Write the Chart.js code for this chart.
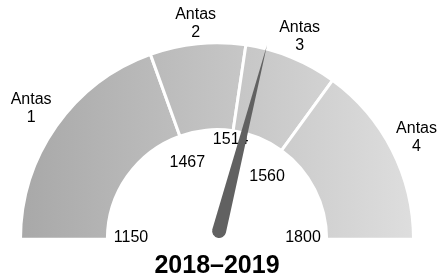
<!DOCTYPE html>
<html>
<head>
<meta charset="utf-8">
<script src="https://cdn.jsdelivr.net/npm/chart.js@4"></script>
<style>
  html, body { margin: 0; padding: 0; background: #fff; }
</style>
</head>
<body>
<canvas id="gauge" width="437" height="279"></canvas>
<script>
// gauge data
const zoneNames = [["Antas", "1"], ["Antas", "2"], ["Antas", "3"], ["Antas", "4"]];
const zoneSizes = [39, 15.7, 15.3, 30];
const tickValues = [1150, 1467, 1514, 1560, 1800];
const tickLabels = ["1150", "1467", "1514", "1560", "1800"];
const needleValue = 1524;
const titleText = "2018–2019";

const FONT = "'Liberation Sans', Arial, sans-serif";

// hand tuned placement of the texts around the arc
const tickRadius = [86, 82, 101, 80, 86];
const tickShift = [1.2, -1.4, -0.7, 2.75, -1.2]; // degrees
const zoneGap = [7, 5, 2, 4];

const toRad = (d) => (d * Math.PI) / 180;

const gaugePlugin = {
  id: "gaugeExtras",
  afterDatasetsDraw(chart) {
    const arcs = chart.getDatasetMeta(0).data;
    if (!arcs.length) return;
    const ctx = chart.ctx;
    const cx = arcs[0].x;
    const cy = arcs[0].y;
    const outer = arcs[0].outerRadius;
    const bounds = [arcs[0].startAngle, ...arcs.map((a) => a.endAngle)];

    ctx.save();
    ctx.fillStyle = "#000";
    ctx.font = "16px " + FONT;
    ctx.textAlign = "center";
    ctx.textBaseline = "middle";

    // zone names outside the arc
    arcs.forEach((arc, i) => {
      const mid = (arc.startAngle + arc.endAngle) / 2;
      const hw = ctx.measureText(zoneNames[i][0]).width / 2;
      const hh = 14.75;
      const r = outer - 1.5 + zoneGap[i] +
        Math.abs(Math.cos(mid)) * hw + Math.abs(Math.sin(mid)) * hh;
      const x = cx + Math.cos(mid) * r;
      const y = cy + Math.sin(mid) * r;
      ctx.fillText(zoneNames[i][0], x, y - 9);
      ctx.fillText(zoneNames[i][1], x, y + 9);
    });

    // tick values inside the arc
    tickLabels.forEach((t, i) => {
      const a = bounds[i] + toRad(tickShift[i]);
      ctx.fillText(t, cx + Math.cos(a) * tickRadius[i], cy + Math.sin(a) * tickRadius[i]);
    });

    // needle
    let k = 0;
    while (k < tickValues.length - 2 && needleValue > tickValues[k + 1]) k++;
    const f = (needleValue - tickValues[k]) / (tickValues[k + 1] - tickValues[k]);
    const ang = bounds[k] + f * (bounds[k + 1] - bounds[k]);
    const ux = Math.cos(ang), uy = Math.sin(ang);
    const w = 7;
    const bx = cx + ux * 8.5, by = cy + uy * 8.5;
    const tx = cx + ux * (outer + 4), ty = cy + uy * (outer + 4);
    ctx.beginPath();
    ctx.moveTo(tx, ty);
    ctx.lineTo(bx + Math.cos(ang + Math.PI / 2) * w, by + Math.sin(ang + Math.PI / 2) * w);
    ctx.arc(bx, by, w, ang + Math.PI / 2, ang + Math.PI * 1.5);
    ctx.closePath();
    ctx.fillStyle = "#616161";
    ctx.fill();
    ctx.restore();
  },
};

new Chart(document.getElementById("gauge"), {
  type: "doughnut",
  data: {
    labels: zoneNames.map((n) => n.join(" ")),
    datasets: [
      {
        data: zoneSizes,
        backgroundColor: (c) => {
          const area = c.chart.chartArea;
          if (!area) return "#c0c0c0";
          const g = c.chart.ctx.createLinearGradient(area.left, 0, area.right, 0);
          g.addColorStop(0, "#a8a8a8");
          g.addColorStop(1, "#dedede");
          return g;
        },
        borderColor: "#fff",
        borderWidth: 3,
        hoverOffset: 0,
        offset: 0,
      },
    ],
  },
  options: {
    responsive: false,
    animation: false,
    devicePixelRatio: 1,
    rotation: -90,
    circumference: 180,
    cutout: "55.8%",
    layout: { padding: { left: 19, right: 22, top: 41, bottom: 0 } },
    plugins: {
      legend: { display: false },
      tooltip: { enabled: false },
      title: {
        display: true,
        text: titleText,
        position: "bottom",
        color: "#000",
        font: { family: FONT, size: 25, weight: "bold", lineHeight: 1 },
        padding: { top: 13, bottom: 0 },
      },
    },
  },
  plugins: [gaugePlugin],
});
</script>
</body>
</html>
